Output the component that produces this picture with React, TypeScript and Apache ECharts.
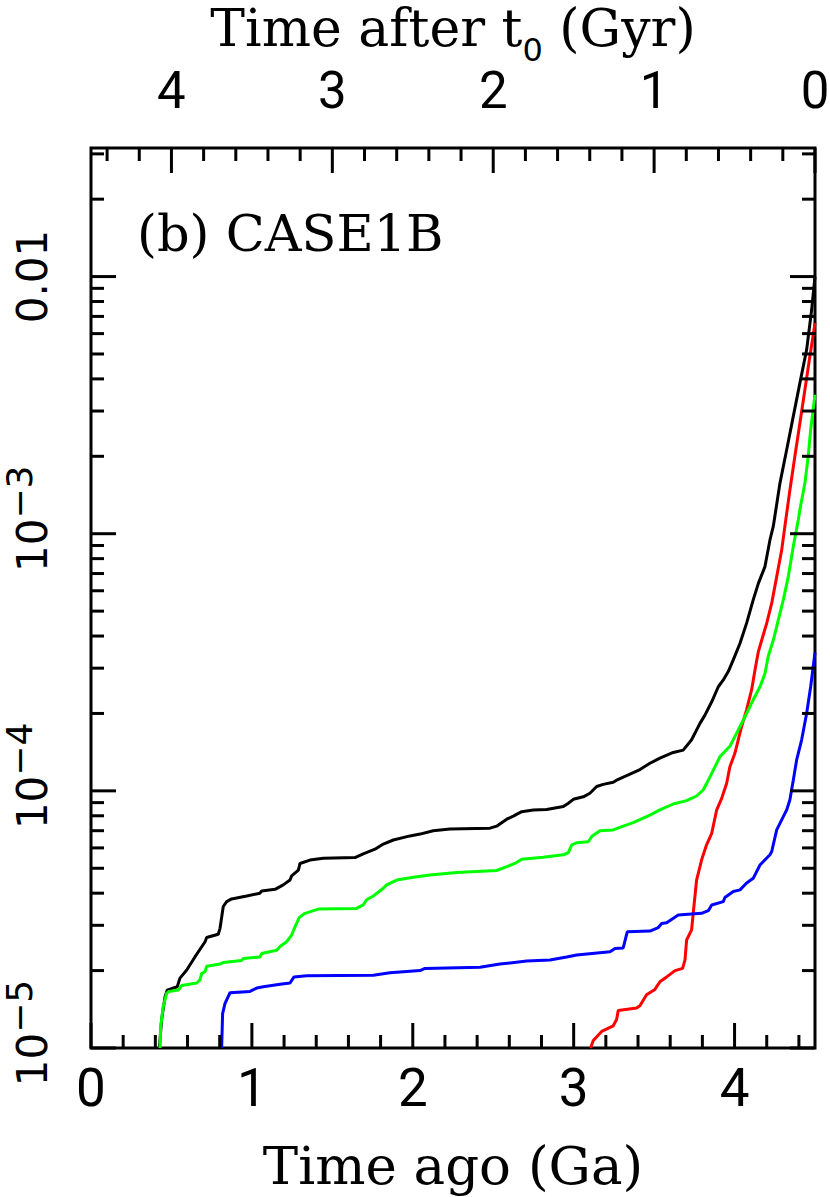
import React, { useEffect, useRef } from 'react';
import * as echarts from 'echarts';

// ---- data (x: time ago in Ga, y: value on log scale) ----
const blackData: [number, number][] = [
  [0.425, 1.0e-5], [0.439, 1.29e-5], [0.46, 1.58e-5], [0.474, 1.68e-5], [0.536, 1.73e-5],
  [0.553, 1.87e-5], [0.595, 2.01e-5], [0.646, 2.26e-5], [0.709, 2.59e-5], [0.719, 2.69e-5],
  [0.791, 2.77e-5], [0.802, 2.92e-5], [0.822, 3.55e-5], [0.843, 3.71e-5], [0.874, 3.8e-5],
  [0.968, 3.9e-5], [1.05, 4.0e-5], [1.061, 4.08e-5], [1.144, 4.14e-5], [1.195, 4.31e-5],
  [1.237, 4.5e-5], [1.247, 4.67e-5], [1.289, 4.92e-5], [1.299, 5.22e-5], [1.361, 5.38e-5],
  [1.444, 5.47e-5], [1.641, 5.5e-5], [1.692, 5.69e-5], [1.765, 5.93e-5], [1.817, 6.21e-5],
  [1.879, 6.44e-5], [1.983, 6.68e-5], [2.045, 6.79e-5], [2.127, 7.0e-5], [2.231, 7.1e-5],
  [2.48, 7.16e-5], [2.521, 7.29e-5], [2.584, 7.76e-5], [2.625, 7.98e-5], [2.677, 8.3e-5],
  [2.749, 8.43e-5], [2.832, 8.47e-5], [2.936, 8.69e-5], [2.967, 8.95e-5], [2.998, 9.27e-5],
  [3.06, 9.48e-5], [3.101, 9.79e-5], [3.143, 1.04e-4], [3.184, 1.06e-4], [3.246, 1.08e-4],
  [3.267, 1.1e-4], [3.412, 1.21e-4], [3.474, 1.28e-4], [3.536, 1.34e-4], [3.619, 1.41e-4],
  [3.681, 1.44e-4], [3.733, 1.58e-4], [3.785, 1.83e-4], [3.816, 1.97e-4], [3.858, 2.22e-4],
  [3.899, 2.54e-4], [3.93, 2.7e-4], [3.961, 2.91e-4], [3.992, 3.23e-4], [4.034, 3.75e-4],
  [4.075, 4.49e-4], [4.116, 5.53e-4], [4.148, 6.41e-4], [4.189, 7.45e-4], [4.22, 9.46e-4],
  [4.241, 1.07e-3], [4.282, 1.57e-3], [4.324, 2.12e-3], [4.365, 2.86e-3], [4.406, 3.85e-3],
  [4.448, 5.19e-3], [4.479, 7.41e-3], [4.5, 1.0e-2],
];

const greenData: [number, number][] = [
  [0.429, 1.0e-5], [0.433, 1.21e-5], [0.449, 1.45e-5], [0.47, 1.63e-5], [0.485, 1.66e-5],
  [0.543, 1.68e-5], [0.564, 1.75e-5], [0.657, 1.79e-5], [0.677, 1.84e-5], [0.688, 1.95e-5],
  [0.709, 1.98e-5], [0.719, 2.08e-5], [0.802, 2.12e-5], [0.822, 2.15e-5], [0.936, 2.19e-5],
  [0.947, 2.23e-5], [1.05, 2.26e-5], [1.061, 2.33e-5], [1.154, 2.4e-5], [1.175, 2.48e-5],
  [1.216, 2.59e-5], [1.247, 2.75e-5], [1.268, 2.96e-5], [1.295, 3.22e-5], [1.33, 3.34e-5],
  [1.413, 3.47e-5], [1.651, 3.49e-5], [1.692, 3.6e-5], [1.713, 3.77e-5], [1.755, 3.9e-5],
  [1.817, 4.18e-5], [1.838, 4.31e-5], [1.9, 4.5e-5], [2.003, 4.61e-5], [2.107, 4.71e-5],
  [2.273, 4.81e-5], [2.521, 4.9e-5], [2.584, 5.07e-5], [2.635, 5.22e-5], [2.677, 5.42e-5],
  [2.811, 5.52e-5], [2.936, 5.64e-5], [2.967, 5.75e-5], [2.988, 6.17e-5], [3.019, 6.28e-5],
  [3.091, 6.34e-5], [3.112, 6.64e-5], [3.163, 7.0e-5], [3.246, 7.05e-5], [3.308, 7.29e-5],
  [3.37, 7.52e-5], [3.474, 8.05e-5], [3.536, 8.43e-5], [3.619, 8.89e-5], [3.702, 9.16e-5],
  [3.764, 9.55e-5], [3.806, 1.01e-4], [3.827, 1.07e-4], [3.858, 1.17e-4], [3.91, 1.36e-4],
  [3.971, 1.49e-4], [4.034, 1.78e-4], [4.075, 2.0e-4], [4.116, 2.26e-4], [4.158, 2.54e-4],
  [4.189, 2.86e-4], [4.209, 3.33e-4], [4.241, 3.86e-4], [4.272, 4.62e-4], [4.303, 5.53e-4],
  [4.334, 6.81e-4], [4.365, 8.91e-4], [4.396, 1.13e-3], [4.406, 1.24e-3], [4.437, 1.57e-3],
  [4.458, 2.0e-3], [4.473, 2.54e-3], [4.5, 3.47e-3],
];

const blueData: [number, number][] = [
  [0.812, 1.0e-5], [0.818, 1.36e-5], [0.833, 1.49e-5], [0.864, 1.64e-5], [0.988, 1.66e-5],
  [1.03, 1.71e-5], [1.071, 1.73e-5], [1.175, 1.77e-5], [1.237, 1.79e-5], [1.262, 1.89e-5],
  [1.341, 1.91e-5], [1.755, 1.92e-5], [1.858, 1.96e-5], [2.045, 2.0e-5], [2.076, 2.04e-5],
  [2.418, 2.06e-5], [2.542, 2.12e-5], [2.708, 2.18e-5], [2.853, 2.2e-5], [2.956, 2.26e-5],
  [3.019, 2.3e-5], [3.226, 2.37e-5], [3.257, 2.44e-5], [3.308, 2.45e-5], [3.333, 2.83e-5],
  [3.474, 2.85e-5], [3.526, 2.94e-5], [3.547, 3.05e-5], [3.578, 3.07e-5], [3.65, 3.29e-5],
  [3.795, 3.34e-5], [3.837, 3.42e-5], [3.858, 3.6e-5], [3.93, 3.71e-5], [3.94, 3.85e-5],
  [3.992, 4.06e-5], [4.034, 4.12e-5], [4.075, 4.38e-5], [4.116, 4.57e-5], [4.158, 5.15e-5],
  [4.22, 5.64e-5], [4.231, 5.81e-5], [4.262, 7.05e-5], [4.324, 8.43e-5], [4.344, 9.23e-5],
  [4.365, 1.1e-4], [4.386, 1.32e-4], [4.417, 1.58e-4], [4.448, 2.0e-4], [4.473, 2.54e-4],
  [4.5, 3.45e-4],
];

const redData: [number, number][] = [
  [3.105, 1.0e-5], [3.122, 1.07e-5], [3.174, 1.16e-5], [3.246, 1.22e-5], [3.267, 1.29e-5],
  [3.277, 1.4e-5], [3.391, 1.43e-5], [3.412, 1.46e-5], [3.453, 1.61e-5], [3.505, 1.69e-5],
  [3.536, 1.81e-5], [3.578, 1.89e-5], [3.63, 2.0e-5], [3.677, 2.04e-5], [3.692, 2.2e-5],
  [3.702, 2.63e-5], [3.733, 2.88e-5], [3.743, 3.34e-5], [3.764, 4.5e-5], [3.795, 5.38e-5],
  [3.826, 6.17e-5], [3.858, 6.84e-5], [3.889, 8.43e-5], [3.92, 9.35e-5], [3.951, 1.07e-4],
  [3.971, 1.24e-4], [4.002, 1.4e-4], [4.023, 1.58e-4], [4.044, 1.78e-4], [4.075, 2.07e-4],
  [4.106, 2.47e-4], [4.127, 2.95e-4], [4.148, 3.48e-4], [4.169, 3.86e-4], [4.2, 4.49e-4],
  [4.231, 5.37e-4], [4.262, 6.81e-4], [4.293, 8.65e-4], [4.313, 1.07e-3], [4.344, 1.48e-3],
  [4.375, 2.0e-3], [4.406, 2.69e-3], [4.437, 3.62e-3], [4.468, 4.89e-3], [4.5, 6.59e-3],
];

// ---- axes ----
const X_MIN = 0;
const X_MAX = 4.5;
const Y_MIN = 1e-5;
const Y_MAX = Math.pow(10, -1.5);

const yMajorTicks = [1e-5, 1e-4, 1e-3, 1e-2];
const yMinorTicks = [
  2e-5, 3e-5, 4e-5, 5e-5, 6e-5, 7e-5, 8e-5, 9e-5,
  2e-4, 3e-4, 4e-4, 5e-4, 6e-4, 7e-4, 8e-4, 9e-4,
  2e-3, 3e-3, 4e-3, 5e-3, 6e-3, 7e-3, 8e-3, 9e-3,
  2e-2, 3e-2,
];
const xMajorTicks = [0, 1, 2, 3, 4];
const xMinorTicks = [0.2, 0.4, 0.6, 0.8, 1.2, 1.4, 1.6, 1.8, 2.2, 2.4, 2.6, 2.8, 3.2, 3.4, 3.6, 3.8, 4.2, 4.4];
const topMajorTicks = [0, 1, 2, 3, 4];
const topMinorTicks = [0.2, 0.4, 0.6, 0.8, 1.2, 1.4, 1.6, 1.8, 2.2, 2.4, 2.6, 2.8, 3.2, 3.4, 3.6, 3.8, 4.2, 4.4];

const MAJOR_LEN = 25;
const MINOR_LEN = 13;
const TICK_W = 3;

const SANS = '"DejaVu Sans", Roboto, sans-serif';
const XSANS = 'Roboto, "DejaVu Sans", sans-serif';
const SERIF = '"DejaVu Serif", "Liberation Serif", serif';

function tickSeries(data: number[][], kind: 'y' | 'bottom' | 'top') {
  return {
    type: 'custom',
    silent: true,
    clip: false,
    z: 10,
    data,
    renderItem: (_params: any, api: any) => {
      const a = api.value(0);
      const b = api.value(1);
      const len = api.value(2);
      const style = { stroke: '#000', lineWidth: TICK_W };
      if (kind === 'y') {
        const p = api.coord([X_MIN, b]);
        const q = api.coord([X_MAX, b]);
        return {
          type: 'group',
          children: [
            { type: 'line', shape: { x1: p[0], y1: p[1], x2: p[0] + len, y2: p[1] }, style },
            { type: 'line', shape: { x1: q[0] - len, y1: q[1], x2: q[0], y2: q[1] }, style },
          ],
        };
      }
      if (kind === 'bottom') {
        const p = api.coord([a, Y_MIN]);
        return { type: 'line', shape: { x1: p[0], y1: p[1], x2: p[0], y2: p[1] - len }, style };
      }
      const p = api.coord([a, Y_MAX]);
      return { type: 'line', shape: { x1: p[0], y1: p[1], x2: p[0], y2: p[1] + len }, style };
    },
  };
}

function lineSeries(name: string, data: [number, number][], color: string) {
  return {
    name,
    type: 'line',
    data,
    showSymbol: false,
    symbol: 'none',
    smooth: false,
    lineStyle: { color, width: 3 },
    itemStyle: { color },
    z: 3,
  };
}

const isInt = (v: number) => Math.abs(v - Math.round(v)) < 1e-6;

export default function App() {
  const ref = useRef<HTMLDivElement>(null);

  useEffect(() => {
    document.body.style.margin = '0';
    if (!ref.current) return;
    const chart = echarts.init(ref.current, undefined, { renderer: 'svg' });

    const yTickData = [
      ...yMajorTicks.map((v) => [X_MIN, v, MAJOR_LEN]),
      ...yMinorTicks.map((v) => [X_MIN, v, MINOR_LEN]),
    ];
    const bottomTickData = [
      ...xMajorTicks.map((v) => [v, Y_MIN, MAJOR_LEN]),
      ...xMinorTicks.map((v) => [v, Y_MIN, MINOR_LEN]),
    ];
    const topTickData = [
      ...topMajorTicks.map((t) => [X_MAX - t, Y_MAX, MAJOR_LEN]),
      ...topMinorTicks.map((t) => [X_MAX - t, Y_MAX, MINOR_LEN]),
    ];

    chart.setOption({
      animation: false,
      backgroundColor: '#fff',
      title: [
        {
          text: '(b) CASE1B',
          left: 132,
          top: 203,
          textStyle: { fontFamily: SERIF, fontSize: 51, fontWeight: 'normal', color: '#000' },
        },
        {
          // top axis title
          text: '{a|Time after t}{sub|0}{a| (Gyr)}',
          left: 453,
          top: 2,
          padding: 0,
          textAlign: 'center',
          textStyle: {
            fontFamily: SERIF,
            fontSize: 52,
            fontWeight: 'normal',
            color: '#000',
            rich: {
              a: { fontFamily: SERIF, fontSize: 52, verticalAlign: 'top', color: '#000' },
              sub: {
                fontFamily: SANS,
                fontSize: 32,
                verticalAlign: 'top',
                padding: [32, 0, 0, 0],
                color: '#000',
              },
            },
          },
        },
      ],
      grid: {
        left: 91,
        right: 15,
        top: 148,
        bottom: 149,
        show: true,
        borderColor: '#000',
        borderWidth: 3,
        backgroundColor: 'transparent',
        containLabel: false,
        outerBoundsMode: 'none',
      },
      xAxis: [
        {
          type: 'value',
          position: 'bottom',
          min: X_MIN,
          max: X_MAX,
          interval: 1,
          axisLine: { show: false },
          axisTick: { show: false },
          splitLine: { show: false },
          axisLabel: {
            margin: 13,
            fontFamily: XSANS,
            fontSize: 53,
            color: '#000',
            formatter: (v: number) => (isInt(v) ? String(Math.round(v)) : ''),
          },
          name: 'Time ago (Ga)',
          nameLocation: 'middle',
          nameGap: 92,
          nameTextStyle: { fontFamily: SERIF, fontSize: 53, lineHeight: 50, color: '#000' },
        },
        {
          type: 'value',
          position: 'top',
          inverse: true,
          min: 0,
          max: 4.5,
          interval: 1,
          axisLine: { show: false },
          axisTick: { show: false },
          splitLine: { show: false },
          axisLabel: {
            margin: 32,
            fontFamily: XSANS,
            fontSize: 51,
            color: '#000',
            formatter: (v: number) => (isInt(v) ? String(Math.round(v)) : ''),
          },
        },
      ],
      yAxis: {
        type: 'log',
        logBase: 10,
        min: Y_MIN,
        max: Y_MAX,
        axisLine: { show: false },
        axisTick: { show: false },
        splitLine: { show: false },
        minorTick: { show: false },
        axisLabel: {
          rotate: 90,
          align: 'center',
          verticalAlign: 'bottom',
          margin: 38,
          interval: 0,
          fontFamily: SANS,
          fontSize: 42,
          color: '#000',
          formatter: (v: number) => {
            const e = Math.log10(v);
            const r = Math.round(e);
            if (Math.abs(e - r) > 1e-6) return '';
            if (r === -2) return '{p|0.01}';
            return `{b|10}{s|−${-r}}`;
          },
          rich: {
            p: { fontFamily: SANS, fontSize: 42, lineHeight: 42, verticalAlign: 'bottom' },
            b: { fontFamily: SANS, fontSize: 42, lineHeight: 42, verticalAlign: 'bottom', padding: [0, 0, 0, 30] },
            s: { fontFamily: SANS, fontSize: 36, lineHeight: 52, verticalAlign: 'top' },
          },
        },
      },
      series: [
        lineSeries('black', blackData, '#000000'),
        lineSeries('red', redData, '#ff0000'),
        lineSeries('green', greenData, '#00ff00'),
        lineSeries('blue', blueData, '#0000ff'),
        tickSeries(yTickData, 'y'),
        tickSeries(bottomTickData, 'bottom'),
        tickSeries(topTickData, 'top'),
      ],
    });

    return () => {
      chart.dispose();
    };
  }, []);

  return <div ref={ref} style={{ width: 830, height: 1197 }} />;
}
